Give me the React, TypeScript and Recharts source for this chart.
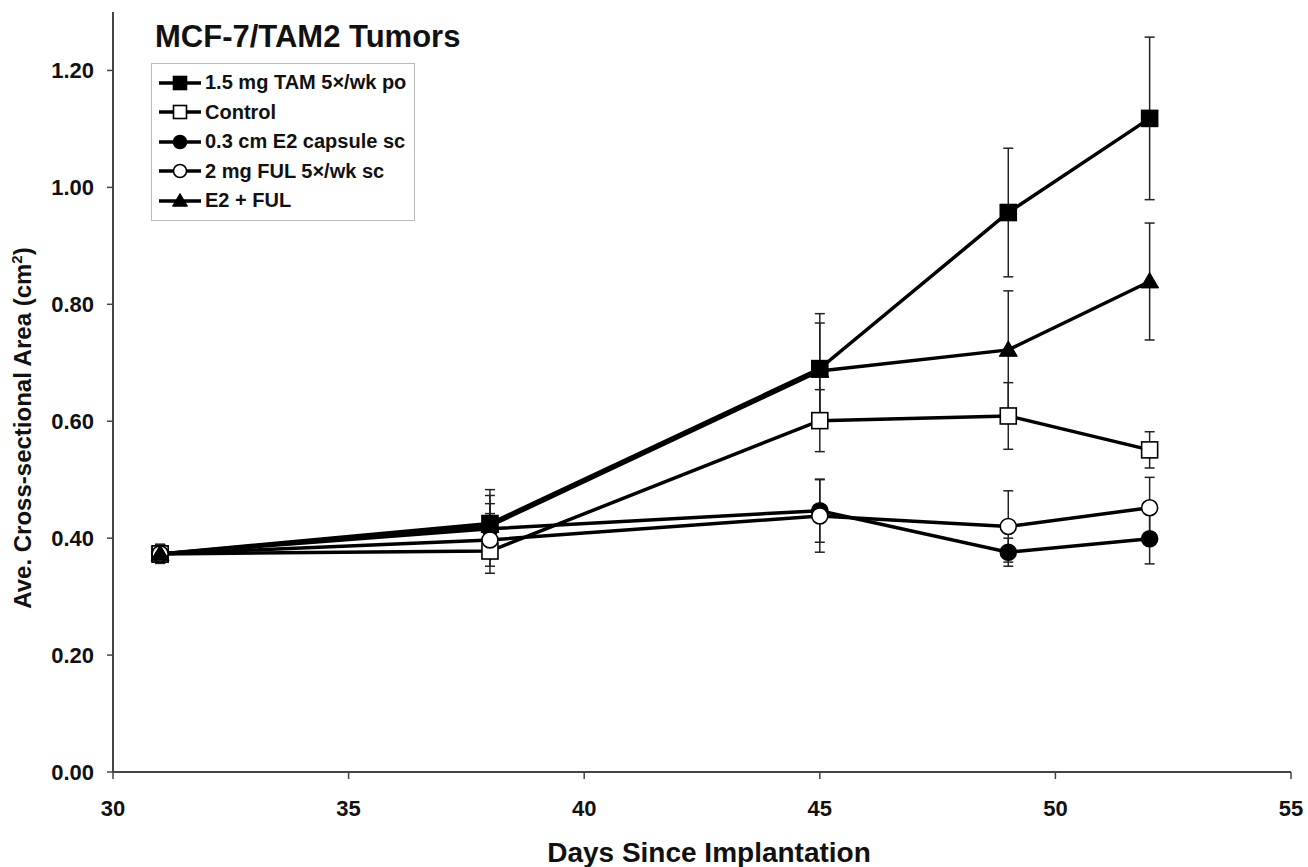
import React from 'react';
import { LineChart, Line, XAxis, YAxis, ErrorBar, Legend, Label } from 'recharts';

// days since implantation
const days = [31, 38, 45, 49, 52];

// mean cross-sectional area (cm2) per group, and SEM
const tamMean = [0.373, 0.425, 0.69, 0.957, 1.118];
const tamErr = [0.016, 0.058, 0.094, 0.11, 0.139];
const controlMean = [0.373, 0.378, 0.601, 0.609, 0.551];
const controlErr = [0.016, 0.038, 0.053, 0.057, 0.031];
const e2Mean = [0.373, 0.416, 0.447, 0.376, 0.399];
const e2Err = [0.016, 0.043, 0.054, 0.024, 0.043];
const fulMean = [0.373, 0.397, 0.438, 0.42, 0.452];
const fulErr = [0.016, 0.045, 0.062, 0.061, 0.052];
const e2fulMean = [0.373, 0.421, 0.686, 0.722, 0.839];
const e2fulErr = [0.016, 0.052, 0.082, 0.101, 0.1];

const xTicks = [30, 35, 40, 45, 50, 55];
const yTicks = [0, 0.2, 0.4, 0.6, 0.8, 1.0, 1.2];

type Shape = 'square' | 'circle' | 'triangle';

type SeriesDef = {
  key: string;
  name: string;
  shape: Shape;
  filled: boolean;
  mean: number[];
  err: number[];
};

const series: SeriesDef[] = [
  { key: 'tam', name: '1.5 mg TAM 5×/wk po', shape: 'square', filled: true, mean: tamMean, err: tamErr },
  { key: 'control', name: 'Control', shape: 'square', filled: false, mean: controlMean, err: controlErr },
  { key: 'e2', name: '0.3 cm E2 capsule sc', shape: 'circle', filled: true, mean: e2Mean, err: e2Err },
  { key: 'ful', name: '2 mg FUL 5×/wk sc', shape: 'circle', filled: false, mean: fulMean, err: fulErr },
  { key: 'e2ful', name: 'E2 + FUL', shape: 'triangle', filled: true, mean: e2fulMean, err: e2fulErr },
];

const data = days.map((day, i) => {
  const row: Record<string, number> = { day };
  series.forEach((s) => {
    row[s.key] = s.mean[i];
    row[`${s.key}Err`] = s.err[i];
  });
  return row;
});

const FONT = '"Liberation Sans", Arial, Helvetica, sans-serif';
const INK = '#111';
const AXIS = '#444';

function Marker(props: { cx: number; cy: number; shape: Shape; filled: boolean; size: number }) {
  const { cx, cy, shape, filled, size } = props;
  const h = size / 2;
  const fill = filled ? '#000' : '#fff';
  if (shape === 'square') {
    return <rect x={cx - h} y={cy - h} width={size} height={size} fill={fill} stroke="#000" strokeWidth={1.6} />;
  }
  if (shape === 'circle') {
    return <circle cx={cx} cy={cy} r={h} fill={fill} stroke="#000" strokeWidth={1.6} />;
  }
  return (
    <polygon
      points={`${cx},${cy - h - 1} ${cx + h + 1},${cy + h * 0.8} ${cx - h - 1},${cy + h * 0.8}`}
      fill={fill}
      stroke="#000"
      strokeWidth={1}
    />
  );
}

function makeDot(s: SeriesDef) {
  return (p: any) => {
    if (p.cx == null || p.cy == null) return <g key={`${s.key}-${p.index}`} />;
    return (
      <g key={`${s.key}-${p.index}`}>
        <Marker cx={p.cx} cy={p.cy} shape={s.shape} filled={s.filled} size={16} />
      </g>
    );
  };
}

function LegendBox() {
  return (
    <div
      style={{
        border: '1px solid #bbb',
        background: '#fff',
        width: 262,
        padding: '4px 0 4px 0',
        fontFamily: FONT,
        fontWeight: 'bold',
        fontSize: 20,
        color: INK,
      }}
    >
      {series.map((s) => (
        <div key={s.key} style={{ display: 'flex', alignItems: 'center', height: 29.5 }}>
          <svg width={52} height={20} style={{ marginLeft: 6, flex: 'none' }}>
            <line x1={1} y1={10} x2={43} y2={10} stroke="#000" strokeWidth={3.5} />
            <Marker cx={22} cy={10} shape={s.shape} filled={s.filled} size={13} />
          </svg>
          <span style={{ marginLeft: -5, whiteSpace: 'nowrap' }}>{s.name}</span>
        </div>
      ))}
    </div>
  );
}

function YTitle() {
  const x = 31;
  const y = 428;
  return (
    <text
      x={x}
      y={y}
      transform={`rotate(-90, ${x}, ${y})`}
      textAnchor="middle"
      fontFamily={FONT}
      fontWeight="bold"
      fontSize={24}
      fill={INK}
    >
      Ave. Cross-sectional Area (cm
      <tspan fontSize={15} dy={-9}>
        2
      </tspan>
      <tspan dy={9}>)</tspan>
    </text>
  );
}

function XTitle() {
  return (
    <text x={709} y={862} textAnchor="middle" fontFamily={FONT} fontWeight="bold" fontSize={28} fill={INK}>
      Days Since Implantation
    </text>
  );
}

export default function App() {
  const tickStyle = { fill: INK, fontSize: 22, fontWeight: 'bold', fontFamily: FONT };
  return (
    <div style={{ position: 'absolute', left: 0, top: 0, width: 1308, height: 867, background: '#fff' }}>
      <div
        style={{
          position: 'absolute',
          left: 155,
          top: 21,
          fontFamily: FONT,
          fontWeight: 'bold',
          fontSize: 31,
          lineHeight: 1,
          color: INK,
          zIndex: 2,
        }}
      >
        MCF-7/TAM2 Tumors
      </div>
      <LineChart width={1308} height={867} data={data} margin={{ top: 12, right: 17, left: 0, bottom: 0 }}>
        <XAxis
          type="number"
          dataKey="day"
          domain={[30, 55]}
          ticks={xTicks}
          height={95}
          tickSize={7}
          tickMargin={21}
          tick={tickStyle}
          axisLine={{ stroke: AXIS, strokeWidth: 2 }}
          tickLine={{ stroke: AXIS, strokeWidth: 1.5 }}
        >
          <Label content={<XTitle />} />
        </XAxis>
        <YAxis
          type="number"
          domain={[0, 1.3]}
          ticks={yTicks}
          width={113}
          tickSize={6}
          tickMargin={13}
          tick={tickStyle}
          tickFormatter={(v: number) => v.toFixed(2)}
          axisLine={{ stroke: AXIS, strokeWidth: 2 }}
          tickLine={{ stroke: AXIS, strokeWidth: 1.5 }}
        >
          <Label content={<YTitle />} />
        </YAxis>
        <Legend
          layout="vertical"
          align="center"
          verticalAlign="middle"
          content={() => <LegendBox />}
          wrapperStyle={{ left: 151, top: 63, width: 264 }}
        />
        {series.map((s) => (
          <Line
            key={s.key}
            type="linear"
            dataKey={s.key}
            name={s.name}
            stroke="#000"
            strokeWidth={3.5}
            dot={makeDot(s)}
            activeDot={false}
            isAnimationActive={false}
          >
            <ErrorBar dataKey={`${s.key}Err`} width={5} stroke="#222" strokeWidth={1.5} direction="y" />
          </Line>
        ))}
      </LineChart>
    </div>
  );
}
